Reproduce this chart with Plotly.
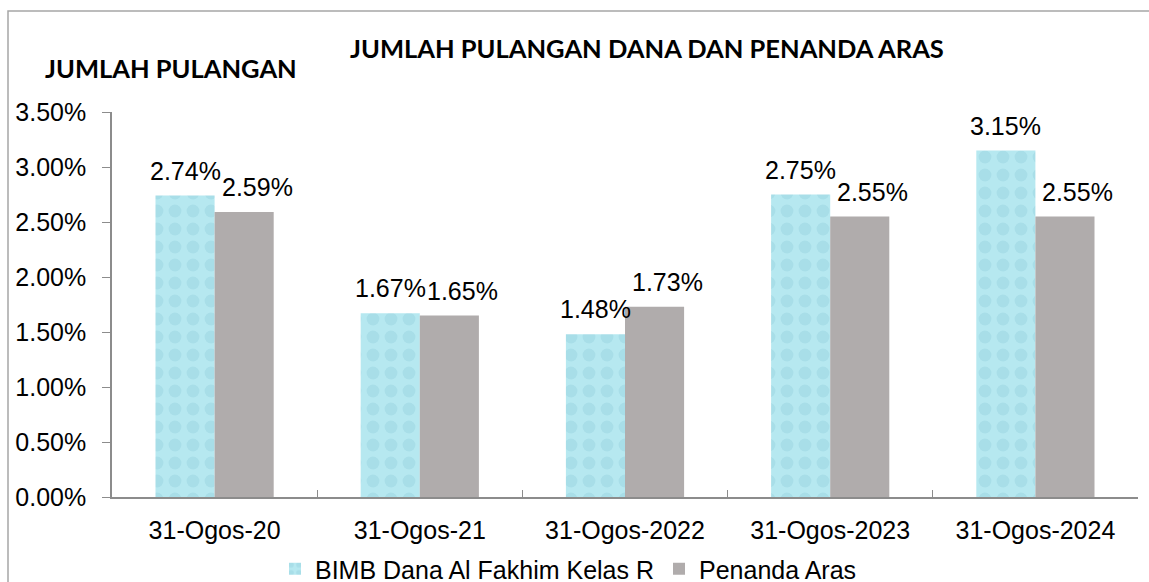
import plotly.graph_objects as go

categories = ["31-Ogos-20", "31-Ogos-21", "31-Ogos-2022", "31-Ogos-2023", "31-Ogos-2024"]
fund_name = "BIMB Dana Al Fakhim Kelas R"
bench_name = "Penanda Aras"
fund_values = [0.0274, 0.0167, 0.0148, 0.0275, 0.0315]
bench_values = [0.0259, 0.0165, 0.0173, 0.0255, 0.0255]
y_ticks = [0.0, 0.005, 0.010, 0.015, 0.020, 0.025, 0.030, 0.035]
y_tick_labels = ["0.00%", "0.50%", "1.00%", "1.50%", "2.00%", "2.50%", "3.00%", "3.50%"]

FONT = "Liberation Sans, Arial, sans-serif"
BOLD = "Lato, Open Sans, sans-serif"

fig = go.Figure()
fig.add_trace(go.Bar(
    x=categories, y=fund_values, name=fund_name,
    marker=dict(color="#b3e7ef", line=dict(width=0),
                pattern=dict(shape=".", fgcolor="#9ad4e0", bgcolor="#b6e8f0",
                             size=18, solidity=0.4)),
))
fig.add_trace(go.Bar(
    x=categories, y=bench_values, name=bench_name,
    marker=dict(color="#b0acac", line=dict(width=0)),
))

W, H = 1149, 582
L, R, T, B = 112, 11, 112, 85
pw = W - L - R
ph = H - T - B
cat_w = pw / len(categories)
bargap = 0.424
bar_w = cat_w * (1 - bargap) / 2

def px(xp):
    return (xp - L) / pw

def py(yp):
    return (H - B - yp) / ph

annotations = [
    dict(text="<b>JUMLAH PULANGAN DANA DAN PENANDA ARAS</b>", xref="paper", yref="paper",
         x=px(647), y=py(48), xanchor="center", yanchor="middle", showarrow=False,
         font=dict(family=BOLD, size=25.5, color="#000000")),
    dict(text="<b>JUMLAH PULANGAN</b>", xref="paper", yref="paper",
         x=px(171), y=py(68), xanchor="center", yanchor="middle", showarrow=False,
         font=dict(family=BOLD, size=25.5, color="#000000")),
]
for series, shift in ((fund_values, -bar_w / 2), (bench_values, bar_w / 2 + 13)):
    for c, v in zip(categories, series):
        annotations.append(dict(
            text=f"{v*100:.2f}%", xref="x", yref="y", x=c, y=v,
            xanchor="center", yanchor="middle", xshift=shift, yshift=25,
            showarrow=False, font=dict(family=FONT, size=25, color="#000000")))

fig.update_layout(
    width=W, height=H,
    margin=dict(l=L, r=R, t=T, b=B, autoexpand=False),
    paper_bgcolor="#ffffff", plot_bgcolor="#ffffff",
    barmode="group", bargap=bargap, bargroupgap=0,
    font=dict(family=FONT, size=25, color="#000000"),
    showlegend=True,
    legend=dict(orientation="h", x=px(275), xanchor="left", y=py(546), yanchor="top",
                font=dict(family=FONT, size=25, color="#000000"),
                bgcolor="rgba(0,0,0,0)", itemclick=False, tracegroupgap=0),
    xaxis=dict(showline=True, linecolor="#8c8c8c", linewidth=1.5, automargin=False,
               ticks="inside", tickson="boundaries", ticklen=7, tickcolor="#8c8c8c",
               tickfont=dict(family=FONT, size=25, color="#000000"),
               ticklabelstandoff=10, showgrid=False, zeroline=False),
    yaxis=dict(range=[0, 0.035], tickvals=y_ticks, ticktext=y_tick_labels, automargin=False,
               showline=True, linecolor="#8c8c8c", linewidth=1.5,
               ticks="outside", ticklen=8, tickcolor="#8c8c8c",
               tickfont=dict(family=FONT, size=25, color="#000000"),
               ticklabelstandoff=11, showgrid=False, zeroline=False),
    shapes=[dict(type="rect", xref="paper", yref="paper",
                 x0=px(8), x1=px(1200), y0=py(640), y1=py(11),
                 line=dict(color="#a6a6a6", width=1.5), fillcolor="rgba(0,0,0,0)",
                 layer="below")],
    annotations=annotations,
)

fig.write_html("out.html")
